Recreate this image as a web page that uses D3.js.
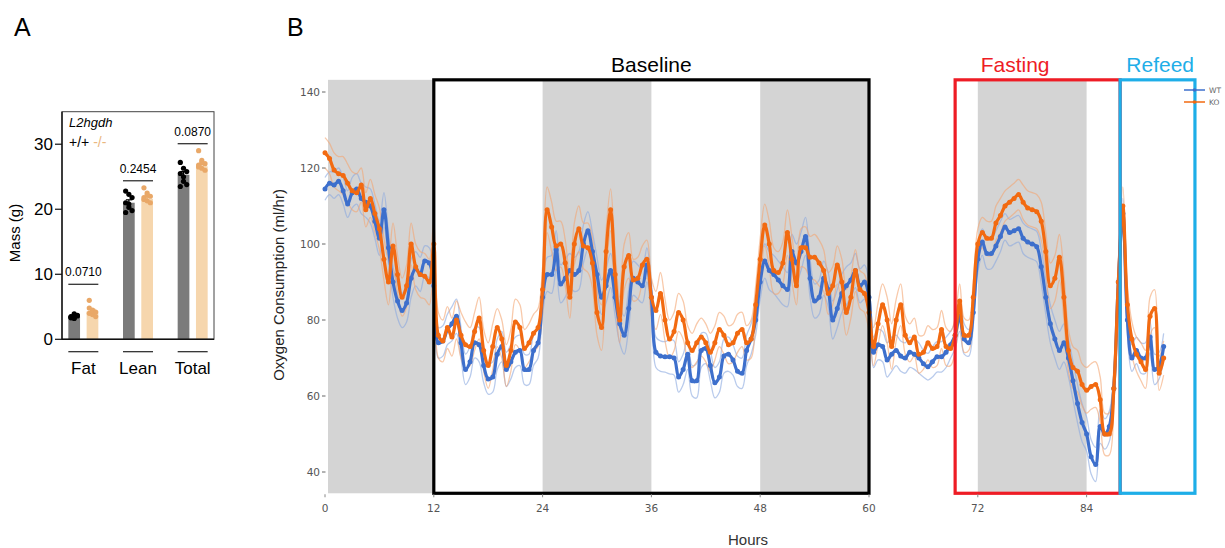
<!DOCTYPE html>
<html>
<head>
<meta charset="utf-8">
<script src="https://cdn.jsdelivr.net/npm/d3@7"></script>
<style>
  body { margin: 0; background: #fff; }
  svg { display: block; }
</style>
</head>
<body>
<div id="chart"></div>
<script>
// ---- panel A data ----
var groups = ["Fat", "Lean", "Total"];
var wtMass = [3.5, 21.0, 25.3];
var koMass = [4.3, 21.6, 26.6];
var wtMassSem = [0.12, 0.45, 0.5];
var koMassSem = [0.3, 0.3, 0.35];
var pValues = ["0.0710", "0.2454", "0.0870"];
var wtPoints = [
  [3.3, 3.9, 3.6, 3.4, 3.2, 3.7, 3.5, 3.3],
  [22.8, 22.3, 21.8, 21.0, 20.3, 19.8, 19.5, 20.8],
  [27.2, 26.3, 25.8, 25.5, 24.3, 23.8, 23.5, 25.0]
];
var koPoints = [
  [6.0, 4.5, 4.2, 4.0, 3.8, 3.5, 4.8, 4.3],
  [23.3, 22.5, 22.0, 21.5, 21.3, 21.0, 21.8, 22.2],
  [29.0, 27.5, 27.0, 26.5, 26.3, 26.0, 26.8, 27.2]
];
var massTicks = [0, 10, 20, 30];

// ---- panel B data (half-hour samples, 0 to 92.5 h) ----
var koMean = [
  124, 122.5, 119.5, 118.5, 118, 116, 114, 113.5, 115.5, 109, 112, 108,
  104, 96, 90, 99.5, 92, 86, 89, 100, 94, 92, 91.5, 90,
  100, 76, 74.5, 78, 75.5, 80, 76, 73.5, 73, 77, 80.5, 72,
  68, 73, 78, 75, 68, 72, 79.5, 78, 72.5, 74, 76.5, 78,
  88, 109, 104.5, 99.5, 100, 95, 86, 100, 104, 99.5, 99, 95,
  82, 78, 98, 109, 92, 80, 94, 97, 90.5, 91, 94.5, 96,
  86, 82.5, 87, 80, 75, 77, 82, 80, 74, 72, 74, 75.5,
  74, 71.5, 74, 77.5, 76, 73.5, 74, 76.5, 77.5, 74, 75, 84,
  96, 105, 100, 93, 92.5, 95, 103, 96, 89, 99, 99, 96.5,
  96.5, 95, 93, 87, 89, 94.5, 90, 82, 86, 93, 88, 87,
  82, 73, 79, 84, 80, 73, 80, 84, 76, 74, 75.5, 71,
  71.5, 74, 72.5, 73, 77.5, 73, 72.5, 76, 85, 76, 76, 86,
  100, 103, 101.5, 101.5, 105.5, 107.5, 110, 111, 112, 113, 111, 109.5,
  109, 108.5, 106, 98, 89, 91, 96.5, 86, 72, 67.5, 66.5, 63,
  61.5, 62.5, 63, 59, 50, 50, 62, 90, 110, 84, 75, 71,
  69, 67, 81, 83, 66, 70
];
var wtMean = [
  114.5, 116, 115.5, 116.5, 114, 110.5, 113.5, 114.5, 112, 111, 110, 106,
  101.5, 109, 99, 90, 85, 82.5, 84.5, 91, 93.5, 92, 95.5, 95,
  89, 74, 74.5, 77.5, 79, 81, 74, 67, 69, 74, 73.5, 68,
  64.5, 65, 71, 73, 67, 69, 71.5, 72, 67, 67, 72, 74,
  86, 92, 92, 98.5, 89.5, 91, 93, 92, 93, 100, 103.5, 98,
  92, 86, 89, 93, 86, 79, 76, 83, 91, 90, 89, 94.5,
  86, 71.5, 70.5, 70.3, 70.3, 70, 65, 67, 71, 64, 64, 72,
  72.5, 68, 63.5, 65, 70.5, 71, 69.5, 66.5, 66, 72, 75, 80,
  90, 95.5, 93, 92, 90.5, 89, 88, 98, 95, 98, 102, 91,
  85, 86, 91, 88, 80, 83, 87, 89, 90.5, 93, 89, 90,
  86, 71.5, 73.5, 73, 69.5, 71, 72, 70.5, 70, 71.5, 71, 70,
  68.5, 67.7, 69, 70.3, 70.3, 71.5, 73.5, 76, 81, 75, 74, 82,
  96, 100.5, 97.5, 97.5, 99.5, 102, 104.5, 103, 103.5, 104, 101.5, 100.5,
  100, 99.3, 94, 86, 79, 75, 72, 74, 70, 64, 58, 53,
  50, 44, 42, 52, 50, 52, 62, 90, 108, 80, 70, 72,
  70, 70, 75.5, 67, 68, 73
];
// SEM per whole hour (0 to 92 h)
var koSem = [
  4, 4.5, 5, 5, 4.5, 5, 5.5, 6, 5, 5.5, 6, 6,
  6, 5.5, 5, 6, 5, 5.5, 6, 5, 5.5, 6, 5, 5,
  6, 6.5, 6, 5.5, 6, 6.5, 6, 5.5, 6, 6, 5.5, 5,
  5, 5.5, 5, 5, 4.5, 5, 5, 4.5, 5, 5, 4.5, 5,
  5.5, 6, 5.5, 6, 5, 5.5, 6, 5.5, 5, 6, 5.5, 5,
  5, 5.5, 6, 5.5, 5, 5, 4.5, 5, 5, 4.5,
  4.5, 4, 4, 4.5, 4.5, 4, 4, 4.5, 4.5, 5,
  6, 6, 5.5, 5.5, 6, 6, 5.5, 5, 5,
  4.5, 5, 5, 4.5
];
var wtSem = [
  3, 3.5, 3.5, 4, 4, 4.5, 4.5, 4, 4.5, 5, 4.5, 4,
  4, 4, 4.5, 4, 4, 4.5, 4, 4, 4.5, 4, 4, 4,
  4.5, 5, 5, 4.5, 5, 5, 4.5, 4.5, 5, 5, 4.5, 4.5,
  4, 4, 4.5, 4, 4, 4.5, 4, 4, 4.5, 4, 4, 4,
  4.5, 5, 5, 4.5, 5, 5, 4.5, 4.5, 5, 5, 4.5, 4.5,
  4, 4, 4.5, 4, 4, 4, 3.5, 4, 4, 3.5,
  4, 3.5, 3.5, 4, 4, 3.5, 3.5, 4, 4, 4.5,
  5, 5, 5, 5, 4.5, 4.5, 4, 4, 4,
  3.5, 4, 4, 3.5
];
var hourTicks = [0, 12, 24, 36, 48, 60, 72, 84];
var vo2Ticks = [40, 60, 80, 100, 120, 140];
var darkPeriods = [[0, 12], [24, 36], [48, 60], [72, 84]];
var phases = [
  {name: "Baseline", start: 12, end: 60, color: "#000000"},
  {name: "Fasting", start: 69.5, end: 87.7, color: "#ee1c25"},
  {name: "Refeed", start: 87.7, end: 95.95, color: "#1eaee8"}
];
var seriesNames = ["WT", "KO"];
var seriesColors = {WT: "#3d6fcc", KO: "#f26a11"};
var thinColors = {WT: "#8aa8e0", KO: "#f3a571"};

var W = 1225, H = 548;
var svg = d3.select("#chart").append("svg").attr("width", W).attr("height", H);

// panel letters
svg.append("text").attr("x", 14).attr("y", 36).text("A")
  .style("font-family", "Liberation Sans, Arial").style("font-size", "25px");
svg.append("text").attr("x", 287).attr("y", 36).text("B")
  .style("font-family", "Liberation Sans, Arial").style("font-size", "25px");

// =============== PANEL A ===============
var aLeft = 62, aRight = 214, aTop = 111.7, aBottom = 339.3;
var yA = d3.scaleLinear().domain([0, 35]).range([aBottom, aTop]);
var xA = d3.scaleBand().domain(groups).range([56, 220]);
var bw = xA.bandwidth();
var xSub = d3.scaleBand().domain(seriesNames).range([bw / 2 - 15, bw / 2 + 15]).paddingInner(0.36);

var gA = svg.append("g");

groups.forEach(function(g, i) {
  var pairs = [
    {s: "WT", m: wtMass[i], e: wtMassSem[i], pts: wtPoints[i], fill: "#7b7b7b", dot: "#000000", err: "#000000"},
    {s: "KO", m: koMass[i], e: koMassSem[i], pts: koPoints[i], fill: "#f6d6ad", dot: "#e9a868", err: "#e9a868"}
  ];
  pairs.forEach(function(p) {
    var x0 = xA(g) + xSub(p.s);
    var cx = x0 + xSub.bandwidth() / 2;
    gA.append("rect")
      .attr("x", x0).attr("y", yA(p.m))
      .attr("width", xSub.bandwidth()).attr("height", yA(0) - yA(p.m))
      .attr("fill", p.fill);
    // points
    gA.selectAll(null).data(p.pts).enter().append("circle")
      .attr("cx", function(d, j) { return cx + ((j % 3) - 1) * 3.2; })
      .attr("cy", function(d) { return yA(d); })
      .attr("r", 2.6)
      .attr("fill", p.dot);
    // error bar
    gA.append("line").attr("x1", cx).attr("x2", cx)
      .attr("y1", yA(p.m - p.e)).attr("y2", yA(p.m + p.e))
      .attr("stroke", p.err).attr("stroke-width", 1.2);
    gA.append("line").attr("x1", cx - 3).attr("x2", cx + 3)
      .attr("y1", yA(p.m + p.e)).attr("y2", yA(p.m + p.e))
      .attr("stroke", p.err).attr("stroke-width", 1.2);
  });
  var lx1 = xA(g) + xSub("WT"), lx2 = xA(g) + xSub("KO") + xSub.bandwidth();
  var top = d3.max(koPoints[i].concat(wtPoints[i]));
  var ly = yA(top) - 7;
  if (i == 0) ly = yA(top) - 16;
  gA.append("line").attr("x1", lx1).attr("x2", lx2).attr("y1", ly).attr("y2", ly)
    .attr("stroke", "#222").attr("stroke-width", 1.2);
  gA.append("text").attr("x", (lx1 + lx2) / 2).attr("y", ly - 8)
    .attr("text-anchor", "middle").text(pValues[i])
    .style("font-family", "Liberation Sans, Arial").style("font-size", "12px");
  // category underline + label
  gA.append("line").attr("x1", lx1).attr("x2", lx2).attr("y1", 351.7).attr("y2", 351.7)
    .attr("stroke", "#222").attr("stroke-width", 1.2);
  gA.append("text").attr("x", (lx1 + lx2) / 2).attr("y", 374)
    .attr("text-anchor", "middle").text(g)
    .style("font-family", "Liberation Sans, Arial").style("font-size", "17px");
});

// frame
gA.append("rect").attr("x", aLeft).attr("y", aTop)
  .attr("width", aRight - aLeft).attr("height", aBottom - aTop)
  .attr("fill", "none").attr("stroke", "#444").attr("stroke-width", 1);
gA.append("line").attr("x1", aLeft).attr("x2", aLeft).attr("y1", aTop).attr("y2", aBottom)
  .attr("stroke", "#111").attr("stroke-width", 1.4);
gA.append("line").attr("x1", aLeft).attr("x2", aRight).attr("y1", aBottom).attr("y2", aBottom)
  .attr("stroke", "#111").attr("stroke-width", 1.4);

// y ticks
massTicks.forEach(function(t) {
  gA.append("line").attr("x1", aLeft - 7).attr("x2", aLeft).attr("y1", yA(t)).attr("y2", yA(t))
    .attr("stroke", "#111").attr("stroke-width", 1.2);
  gA.append("text").attr("x", aLeft - 9).attr("y", yA(t)).attr("dy", "0.35em")
    .attr("text-anchor", "end").text(t)
    .style("font-family", "Liberation Sans, Arial").style("font-size", "17px");
});
gA.append("text").attr("transform", "translate(20," + 233 + ") rotate(-90)")
  .attr("text-anchor", "middle").text("Mass (g)")
  .style("font-family", "Liberation Sans, Arial").style("font-size", "15px");

// genotype legend
gA.append("text").attr("x", 69).attr("y", 127).text("L2hgdh")
  .style("font-family", "Liberation Sans, Arial").style("font-size", "13px").style("font-style", "italic");
var gl = gA.append("text").attr("x", 69).attr("y", 147)
  .style("font-family", "Liberation Sans, Arial").style("font-size", "14px");
gl.append("tspan").text("+/+ ").attr("fill", "#000");
gl.append("tspan").text("-/-").attr("fill", "#eab77f");

// =============== PANEL B ===============
var x = d3.scaleLinear().domain([0, 60]).range([325, 869]);
var y = d3.scaleLinear().domain([40, 140]).range([472, 92]);
var bTop = y(143.2), bBottom = y(34.4);

var gB = svg.append("g");

darkPeriods.forEach(function(p) {
  gB.append("rect")
    .attr("x", x(p[0]) + (p[0] == 0 ? 3 : 0)).attr("y", bTop)
    .attr("width", x(p[1]) - x(p[0]) - (p[0] == 0 ? 3 : 0)).attr("height", bBottom - bTop)
    .attr("fill", "#d4d4d4");
});

var times = d3.range(koMean.length).map(function(i) { return i * 0.5; });

function band(mean, sem, sign) {
  return mean.map(function(v, i) {
    return {h: times[i], v: v + sign * sem[Math.floor(times[i])]};
  });
}

var line = d3.line()
  .x(function(d) { return x(d.h); })
  .y(function(d) { return y(d.v); })
  .curve(d3.curveCatmullRom.alpha(0.5));

var series = {
  WT: {mean: wtMean, sem: wtSem},
  KO: {mean: koMean, sem: koSem}
};

// thin SEM lines
seriesNames.forEach(function(s) {
  [-1, 1].forEach(function(sign) {
    gB.append("path")
      .datum(band(series[s].mean, series[s].sem, sign))
      .attr("d", line)
      .attr("fill", "none")
      .attr("stroke", thinColors[s])
      .attr("stroke-opacity", 0.6)
      .attr("stroke-width", 1.3);
  });
});

// mean lines with markers
seriesNames.forEach(function(s) {
  var pts = series[s].mean.map(function(v, i) { return {h: times[i], v: v}; });
  gB.append("path").datum(pts).attr("d", line)
    .attr("fill", "none").attr("stroke", seriesColors[s]).attr("stroke-width", 3.2);
  gB.selectAll(null).data(pts).enter().append("circle")
    .attr("cx", function(d) { return x(d.h); })
    .attr("cy", function(d) { return y(d.v); })
    .attr("r", 2.5)
    .attr("fill", seriesColors[s]);
});

// phase boxes
phases.forEach(function(p) {
  gB.append("rect")
    .attr("x", x(p.start)).attr("y", bTop)
    .attr("width", x(p.end) - x(p.start)).attr("height", bBottom - bTop)
    .attr("fill", "none").attr("stroke", p.color).attr("stroke-width", 3.2);
  var tx = (x(p.start) + x(p.end)) / 2;
  if (p.name == "Fasting") tx = x(p.start) + 60;
  if (p.name == "Refeed") tx = x(p.start) + 40;
  gB.append("text")
    .attr("x", tx)
    .attr("y", 72).attr("text-anchor", "middle").text(p.name)
    .attr("fill", p.color)
    .style("font-family", "Liberation Sans, Arial").style("font-size", "21px");
});

// axes
vo2Ticks.forEach(function(t) {
  gB.append("text").attr("x", 320).attr("y", y(t)).attr("dy", "0.35em")
    .attr("text-anchor", "end").text(t).attr("fill", "#555")
    .style("font-family", "DejaVu Sans, Verdana").style("font-size", "10.5px");
  gB.append("line").attr("x1", 322).attr("x2", 325.5).attr("y1", y(t)).attr("y2", y(t))
    .attr("stroke", "#666").attr("stroke-width", 1);
});
hourTicks.forEach(function(t) {
  gB.append("line").attr("x1", x(t)).attr("x2", x(t)).attr("y1", bBottom + 1).attr("y2", bBottom + 4)
    .attr("stroke", "#888").attr("stroke-width", 1);
  gB.append("text").attr("x", x(t)).attr("y", 512)
    .attr("text-anchor", "middle").text(t).attr("fill", "#555")
    .style("font-family", "DejaVu Sans, Verdana").style("font-size", "10.5px");
});
gB.append("text").attr("transform", "translate(284," + 285 + ") rotate(-90)")
  .attr("text-anchor", "middle").text("Oxygen Consumption (ml/hr)").attr("fill", "#222")
  .style("font-family", "Liberation Sans, Arial").style("font-size", "15px");
gB.append("text").attr("x", 748).attr("y", 545)
  .attr("text-anchor", "middle").text("Hours").attr("fill", "#333")
  .style("font-family", "Liberation Sans, Arial").style("font-size", "15px");

// legend
seriesNames.forEach(function(s, i) {
  var ly = 90 + i * 12;
  gB.append("line").attr("x1", 1184).attr("x2", 1205).attr("y1", ly).attr("y2", ly)
    .attr("stroke", seriesColors[s]).attr("stroke-width", 1.5);
  gB.append("circle").attr("cx", 1194.5).attr("cy", ly).attr("r", 1.8).attr("fill", seriesColors[s]);
  gB.append("text").attr("x", 1209).attr("y", ly).attr("dy", "0.35em").text(s).attr("fill", "#666")
    .style("font-family", "DejaVu Sans, Verdana").style("font-size", "7.5px");
});
</script>
</body>
</html>
